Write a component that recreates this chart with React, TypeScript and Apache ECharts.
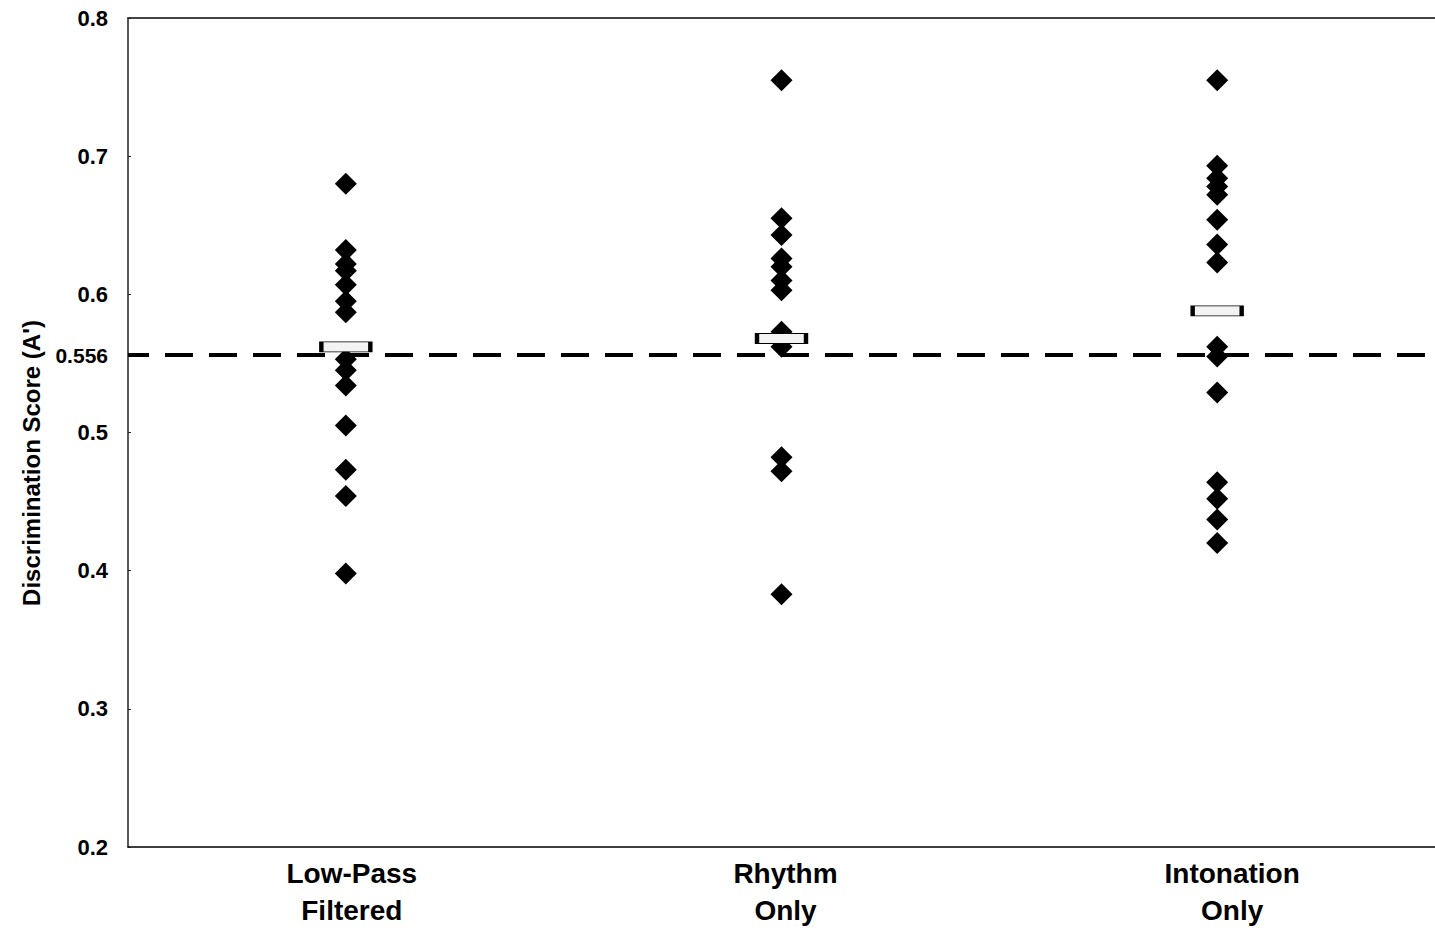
import React, { useEffect, useRef } from "react";
import * as echarts from "echarts";

const categories = ["Low-Pass\nFiltered", "Rhythm\nOnly", "Intonation\nOnly"];

const lowPassScores = [0.68, 0.632, 0.622, 0.617, 0.607, 0.595, 0.587, 0.553, 0.545, 0.534, 0.505, 0.473, 0.454, 0.398];
const rhythmScores = [0.755, 0.655, 0.643, 0.626, 0.62, 0.61, 0.603, 0.573, 0.562, 0.482, 0.472, 0.383];
const intonationScores = [0.755, 0.693, 0.684, 0.678, 0.672, 0.654, 0.636, 0.623, 0.562, 0.555, 0.529, 0.464, 0.452, 0.437, 0.42];

const meanScores = [0.562, 0.568, 0.588];
const chanceLevel = 0.556;

const yMin = 0.2;
const yMax = 0.8;
const yInterval = 0.1;

const FONT = "'Liberation Sans', Arial, Helvetica, sans-serif";

export default function App() {
  const ref = useRef<HTMLDivElement>(null);

  useEffect(() => {
    if (!ref.current) return;
    const chart = echarts.init(ref.current, undefined, { renderer: "svg" });

    const groups = [lowPassScores, rhythmScores, intonationScores];
    const points: [string, number][] = [];
    groups.forEach((g, i) => g.forEach((v) => points.push([categories[i], v])));
    const means: [string, number][] = meanScores.map((v, i) => [categories[i], v]);

    const labelFont = {
      color: "#000",
      fontFamily: FONT,
      fontWeight: "bold" as const,
      fontSize: 28,
      lineHeight: 37,
    };

    chart.setOption({
      animation: false,
      grid: { left: 128, right: 0, top: 18, bottom: 84, containLabel: false },
      xAxis: [
        {
          type: "category",
          data: categories,
          boundaryGap: true,
          axisLine: { show: true, lineStyle: { color: "#000", width: 1.5 } },
          axisTick: { show: false },
          axisLabel: {
            ...labelFont,
            margin: 8,
            interval: 0,
            formatter: (v: string, idx: number) =>
              v
                .split("\n")
                .map((s) => `{c${idx}|${s}}`)
                .join("\n"),
            rich: {
              c0: { ...labelFont, padding: [0, 0, 0, 12] },
              c1: { ...labelFont, padding: [0, 0, 0, 8] },
              c2: { ...labelFont, padding: [0, 0, 0, 30] },
            },
          },
          splitLine: { show: false },
        },
        {
          type: "category",
          data: categories,
          position: "top",
          boundaryGap: true,
          axisLine: { show: true, lineStyle: { color: "#444", width: 2 } },
          axisTick: { show: false },
          axisLabel: { show: false },
          splitLine: { show: false },
        },
      ],
      yAxis: {
        type: "value",
        min: yMin,
        max: yMax,
        interval: yInterval,
        axisLine: { show: true, lineStyle: { color: "#222", width: 1.5 } },
        axisTick: { show: true, inside: true, length: 3, lineStyle: { color: "#222" } },
        axisLabel: {
          color: "#000",
          fontFamily: FONT,
          fontWeight: "bold",
          fontSize: 22,
          margin: 20,
          formatter: (v: number) => v.toFixed(1),
        },
        splitLine: { show: false },
      },
      graphic: [
        {
          type: "text",
          x: 31,
          y: 463,
          rotation: Math.PI / 2,
          style: {
            text: "Discrimination Score (A')",
            fill: "#000",
            font: `bold 24px ${FONT}`,
            textAlign: "center",
            textVerticalAlign: "middle",
          },
        },
      ],
      series: [
        {
          type: "scatter",
          name: "Scores",
          data: points,
          symbol: "diamond",
          symbolSize: 22,
          itemStyle: { color: "#000", opacity: 1 },
          z: 2,
          markLine: {
            silent: true,
            symbol: "none",
            precision: 3,
            data: [{ yAxis: chanceLevel }],
            lineStyle: { color: "#000", width: 4, type: [28, 16], dashOffset: 7, opacity: 1 },
            label: {
              show: true,
              position: "start",
              distance: 20,
              formatter: "0.556",
              color: "#000",
              fontFamily: FONT,
              fontWeight: "bold",
              fontSize: 21,
            },
          },
        },
        {
          type: "scatter",
          name: "Mean",
          data: means,
          symbol: "rect",
          symbolSize: [49, 10],
          itemStyle: { color: "#f3f3f3", borderColor: "#000", borderWidth: 2, opacity: 1 },
          z: 5,
        },
      ],
    });

    return () => chart.dispose();
  }, []);

  return (
    <div
      ref={ref}
      style={{ position: "absolute", left: 0, top: 0, width: 1435, height: 931, background: "#fff" }}
    />
  );
}
